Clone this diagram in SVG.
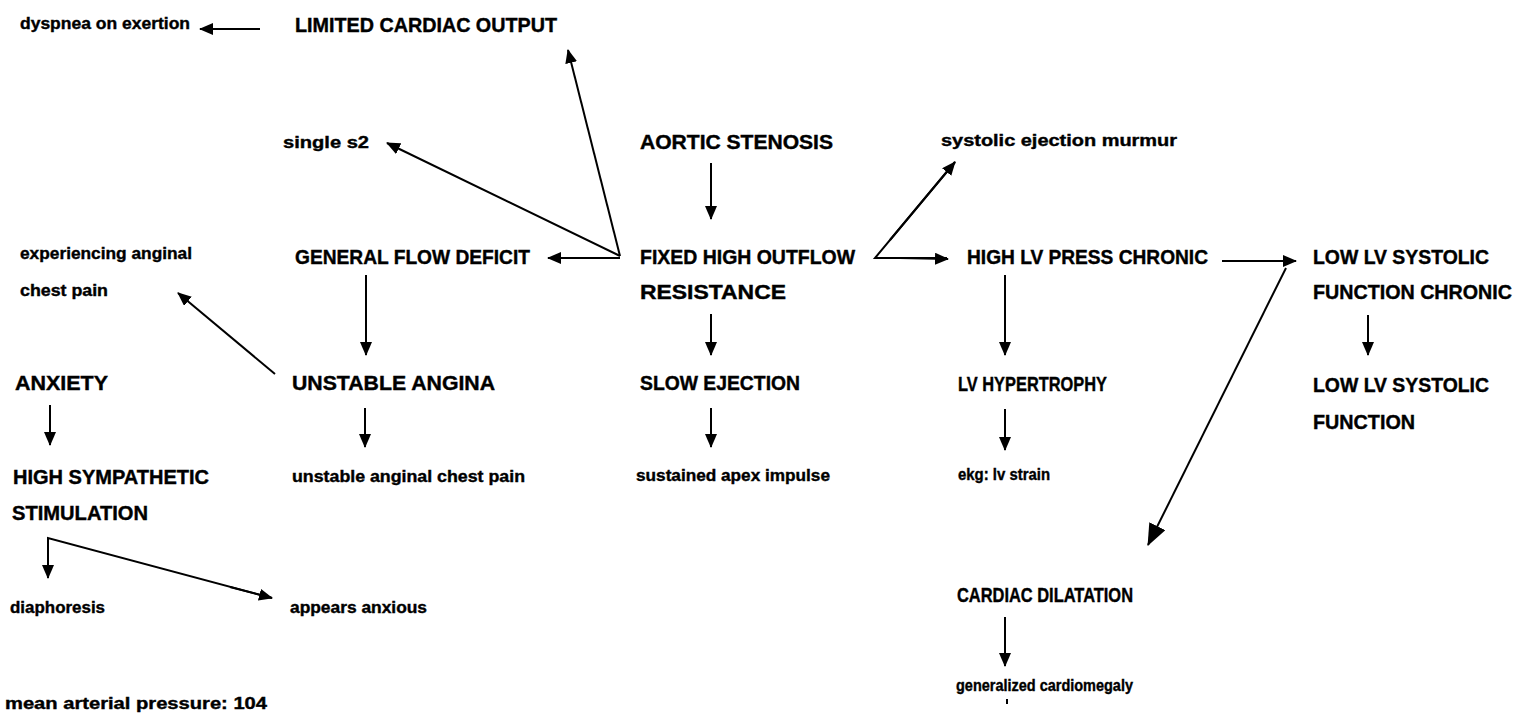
<svg xmlns="http://www.w3.org/2000/svg" width="1514" height="717" viewBox="0 0 1514 717">
<style>
text{font-family:"Liberation Sans","DejaVu Sans",sans-serif;font-weight:bold;fill:#000;stroke:#000;stroke-width:0.4}
.u{font-size:20px}
.l{font-size:17px}
.c line,.c path{stroke:#000;stroke-width:2;fill:none}
</style>
<defs>
<marker id="ah" viewBox="0 0 14 12" refX="13" refY="6" markerWidth="14" markerHeight="12" markerUnits="userSpaceOnUse" orient="auto"><path d="M0,0 L14,6 L0,12 Z" fill="#000"/></marker>
<marker id="ahb" viewBox="0 0 22 18" refX="21" refY="9" markerWidth="22" markerHeight="18" markerUnits="userSpaceOnUse" orient="auto"><path d="M0,0 L22,9 L0,18 Z" fill="#000"/></marker>
</defs>
<rect width="1514" height="717" fill="#fff"/>
<g id="n-dyspnea"><text class="l" x="20" y="29" textLength="170" lengthAdjust="spacingAndGlyphs">dyspnea on exertion</text></g>
<g id="n-limited"><text class="u" x="295" y="32" textLength="262" lengthAdjust="spacingAndGlyphs">LIMITED CARDIAC OUTPUT</text></g>
<g id="n-single"><text class="l" x="283" y="148" textLength="86" lengthAdjust="spacingAndGlyphs">single s2</text></g>
<g id="n-aortic"><text class="u" x="640" y="149" textLength="193" lengthAdjust="spacingAndGlyphs">AORTIC STENOSIS</text></g>
<g id="n-murmur"><text class="l" x="941" y="146" textLength="236" lengthAdjust="spacingAndGlyphs">systolic ejection murmur</text></g>
<g id="n-experiencing"><text class="l" x="20" y="259" textLength="172" lengthAdjust="spacingAndGlyphs">experiencing anginal</text><text class="l" x="20" y="296" textLength="88" lengthAdjust="spacingAndGlyphs">chest pain</text></g>
<g id="n-general"><text class="u" x="295" y="264" textLength="235" lengthAdjust="spacingAndGlyphs">GENERAL FLOW DEFICIT</text></g>
<g id="n-fixed"><text class="u" x="640" y="264" textLength="215" lengthAdjust="spacingAndGlyphs">FIXED HIGH OUTFLOW</text><text class="u" x="640" y="299" textLength="146" lengthAdjust="spacingAndGlyphs">RESISTANCE</text></g>
<g id="n-highlv"><text class="u" x="967" y="264" textLength="241" lengthAdjust="spacingAndGlyphs">HIGH LV PRESS CHRONIC</text></g>
<g id="n-lowchronic"><text class="u" x="1313" y="264" textLength="176" lengthAdjust="spacingAndGlyphs">LOW LV SYSTOLIC</text><text class="u" x="1313" y="299" textLength="199" lengthAdjust="spacingAndGlyphs">FUNCTION CHRONIC</text></g>
<g id="n-anxiety"><text class="u" x="15" y="390" textLength="93" lengthAdjust="spacingAndGlyphs">ANXIETY</text></g>
<g id="n-unstable"><text class="u" x="292" y="390" textLength="203" lengthAdjust="spacingAndGlyphs">UNSTABLE ANGINA</text></g>
<g id="n-slow"><text class="u" x="640" y="390" textLength="160" lengthAdjust="spacingAndGlyphs">SLOW EJECTION</text></g>
<g id="n-hypertrophy"><text class="u" x="958" y="391" textLength="149" lengthAdjust="spacingAndGlyphs">LV HYPERTROPHY</text></g>
<g id="n-low"><text class="u" x="1313" y="392" textLength="176" lengthAdjust="spacingAndGlyphs">LOW LV SYSTOLIC</text><text class="u" x="1313" y="429" textLength="102" lengthAdjust="spacingAndGlyphs">FUNCTION</text></g>
<g id="n-sympathetic"><text class="u" x="13" y="484" textLength="196" lengthAdjust="spacingAndGlyphs">HIGH SYMPATHETIC</text><text class="u" x="12" y="520" textLength="136" lengthAdjust="spacingAndGlyphs">STIMULATION</text></g>
<g id="n-unstablepain"><text class="l" x="292" y="482" textLength="233" lengthAdjust="spacingAndGlyphs">unstable anginal chest pain</text></g>
<g id="n-apex"><text class="l" x="636" y="481" textLength="194" lengthAdjust="spacingAndGlyphs">sustained apex impulse</text></g>
<g id="n-ekg"><text class="l" x="958" y="480" textLength="92" lengthAdjust="spacingAndGlyphs">ekg: lv strain</text></g>
<g id="n-dilatation"><text class="u" x="957" y="602" textLength="176" lengthAdjust="spacingAndGlyphs">CARDIAC DILATATION</text></g>
<g id="n-diaphoresis"><text class="l" x="10" y="613" textLength="95" lengthAdjust="spacingAndGlyphs">diaphoresis</text></g>
<g id="n-anxious"><text class="l" x="290" y="613" textLength="137" lengthAdjust="spacingAndGlyphs">appears anxious</text></g>
<g id="n-cardiomegaly"><text class="l" x="956" y="691" textLength="177" lengthAdjust="spacingAndGlyphs">generalized cardiomegaly</text><line x1="1007" y1="699" x2="1007" y2="704" stroke="#000" stroke-width="2"/></g>
<g id="n-map"><text class="l" x="5" y="709" textLength="262" lengthAdjust="spacingAndGlyphs">mean arterial pressure: 104</text></g>
<g id="connectors" class="c">
<line x1="260" y1="29" x2="200" y2="29" marker-end="url(#ah)"/>
<line x1="620" y1="256" x2="568" y2="50" marker-end="url(#ah)"/>
<line x1="620" y1="256" x2="387" y2="143" marker-end="url(#ah)"/>
<line x1="620" y1="258" x2="548" y2="258" marker-end="url(#ah)"/>
<line x1="711" y1="163" x2="711" y2="219" marker-end="url(#ah)"/>
<path d="M955,162 L875,258 L947,258" stroke-linejoin="miter"/>
<line x1="890" y1="240" x2="955" y2="162" marker-end="url(#ah)"/>
<line x1="900" y1="258" x2="948" y2="259" marker-end="url(#ah)"/>
<line x1="1222" y1="261" x2="1296" y2="261" marker-end="url(#ah)"/>
<line x1="1286" y1="268" x2="1148" y2="545" marker-end="url(#ahb)"/>
<line x1="1005" y1="275" x2="1005" y2="355" marker-end="url(#ah)"/>
<line x1="1005" y1="409" x2="1005" y2="450" marker-end="url(#ah)"/>
<line x1="1005" y1="617" x2="1005" y2="666" marker-end="url(#ah)"/>
<line x1="1368" y1="315" x2="1368" y2="355" marker-end="url(#ah)"/>
<line x1="366" y1="275" x2="366" y2="355" marker-end="url(#ah)"/>
<line x1="275" y1="374" x2="178" y2="293" marker-end="url(#ah)"/>
<line x1="365" y1="408" x2="365" y2="447" marker-end="url(#ah)"/>
<line x1="711" y1="314" x2="711" y2="355" marker-end="url(#ah)"/>
<line x1="711" y1="408" x2="711" y2="447" marker-end="url(#ah)"/>
<line x1="50" y1="405" x2="50" y2="445" marker-end="url(#ah)"/>
<path d="M48,577 L48,538 L272,598"/>
<line x1="48" y1="550" x2="48" y2="578" marker-end="url(#ah)"/>
<line x1="230" y1="587" x2="272" y2="598" marker-end="url(#ah)"/>
</g>
</svg>
